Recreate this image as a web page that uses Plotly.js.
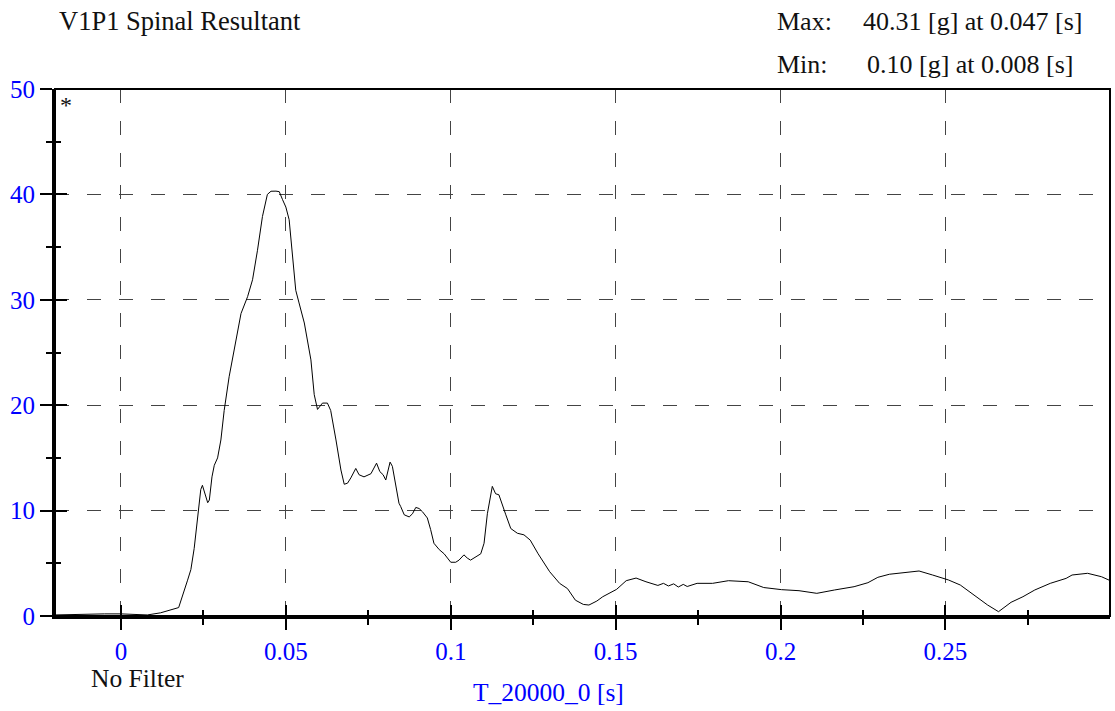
<!DOCTYPE html>
<html>
<head>
<meta charset="utf-8">
<script src="https://cdn.plot.ly/plotly-3.0.1.min.js"></script>
<style>
html,body{margin:0;padding:0;background:#fff;}
#chart{width:1115px;height:711px;}
</style>
</head>
<body>
<div id="chart"></div>
<script>
// ---- data ----
const timeS = [-0.02, -0.015, -0.01, -0.005, 0, 0.005, 0.008, 0.012, 0.015, 0.0175, 0.0202, 0.0212, 0.0222, 0.0235, 0.0242, 0.0247, 0.0255, 0.0263, 0.0268, 0.0276, 0.0283, 0.0293, 0.0303, 0.0313, 0.0328, 0.0343, 0.0364, 0.0384, 0.0399, 0.0414, 0.0429, 0.0444, 0.0455, 0.047, 0.048, 0.049, 0.050, 0.051, 0.052, 0.053, 0.054, 0.0556, 0.0576, 0.0586, 0.0596, 0.0611, 0.0626, 0.0636, 0.0652, 0.0667, 0.0677, 0.0687, 0.0697, 0.0712, 0.0722, 0.0737, 0.0758, 0.0775, 0.0785, 0.0795, 0.0803, 0.0816, 0.0823, 0.0833, 0.0843, 0.0848, 0.0859, 0.0874, 0.0884, 0.0894, 0.0904, 0.0914, 0.0929, 0.0939, 0.0949, 0.0965, 0.098, 0.099, 0.1, 0.1015, 0.1025, 0.104, 0.105, 0.106, 0.1076, 0.1091, 0.1101, 0.1111, 0.1126, 0.1136, 0.1146, 0.1157, 0.1167, 0.1182, 0.1202, 0.1222, 0.1241, 0.1265, 0.130, 0.133, 0.1354, 0.1378, 0.1402, 0.1419, 0.1443, 0.1461, 0.1479, 0.1503, 0.1532, 0.1562, 0.1592, 0.1628, 0.1645, 0.166, 0.1676, 0.169, 0.1705, 0.1717, 0.1747, 0.1794, 0.1842, 0.1902, 0.1949, 0.2003, 0.2056, 0.211, 0.2164, 0.2223, 0.2265, 0.2295, 0.233, 0.2372, 0.242, 0.2461, 0.2509, 0.2545, 0.258, 0.2628, 0.2661, 0.2699, 0.2735, 0.2771, 0.2818, 0.2866, 0.2884, 0.2931, 0.2973, 0.3];
const resultantG = [0.1, 0.15, 0.15, 0.2, 0.2, 0.15, 0.1, 0.3, 0.55, 0.8, 3.4, 4.4, 6.4, 10.1, 12.0, 12.4, 11.6, 10.75, 11.0, 13.2, 14.3, 15.0, 16.7, 19.5, 22.7, 25.2, 28.7, 30.3, 31.9, 34.7, 37.9, 40.0, 40.3, 40.31, 40.26, 39.5, 38.8, 37.6, 34.4, 30.9, 29.7, 27.8, 24.3, 21.0, 19.6, 20.2, 20.2, 19.5, 16.7, 13.85, 12.5, 12.6, 13.1, 14.0, 13.4, 13.2, 13.5, 14.5, 13.7, 13.4, 12.9, 14.6, 14.2, 12.3, 10.7, 10.4, 9.6, 9.4, 9.7, 10.3, 10.2, 9.9, 9.3, 8.2, 6.9, 6.3, 5.9, 5.5, 5.1, 5.1, 5.3, 5.8, 5.5, 5.3, 5.6, 5.9, 6.9, 9.7, 12.3, 11.6, 11.5, 10.4, 9.6, 8.3, 7.85, 7.7, 7.2, 5.9, 4.2, 3.1, 2.6, 1.5, 1.1, 1.04, 1.42, 1.83, 2.15, 2.53, 3.35, 3.6, 3.25, 2.9, 3.1, 2.85, 3.05, 2.75, 3.0, 2.8, 3.1, 3.1, 3.35, 3.25, 2.7, 2.5, 2.4, 2.15, 2.47, 2.78, 3.16, 3.67, 3.96, 4.11, 4.27, 3.89, 3.42, 2.94, 2.15, 1.04, 0.41, 1.3, 1.83, 2.47, 3.1, 3.57, 3.89, 4.05, 3.73, 3.35];
const xTickVals = [0, 0.05, 0.1, 0.15, 0.2, 0.25];
const xTickText = ["0", "0.05", "0.1", "0.15", "0.2", "0.25"];
const yTickVals = [0, 10, 20, 30, 40, 50];
const yTickText = ["0", "10", "20", "30", "40", "50"];
const chartTitle = "V1P1 Spinal Resultant";
const maxText = "40.31 [g] at 0.047 [s]";
const minText = "0.10 [g] at 0.008 [s]";
const xAxisLabel = "T_20000_0 [s]";
const filterLabel = "No Filter";

// ---- layout helpers ----
const W = 1115, H = 711;
const M = {l: 55, r: 5, t: 89, b: 95};
const PW = W - M.l - M.r, PH = H - M.t - M.b;
const px = x => (x - M.l) / PW;
const py = y => (H - M.b - y) / PH;
const FONT = "Liberation Serif, Times New Roman, Times, serif";
const BLUE = '#0000ff';
const XR = [-0.02, 0.2999];
const YR = [0, 50];

const gridStyle = {showgrid: true, gridcolor: '#444', gridwidth: 1, griddash: '14px,18px'};

const traces = [
  {x: timeS, y: resultantG, type: 'scatter', mode: 'lines',
   line: {color: '#000', width: 1}, hoverinfo: 'skip', showlegend: false, xaxis: 'x', yaxis: 'y'},
  {x: timeS, y: resultantG, type: 'scatter', mode: 'lines',
   line: {color: 'rgba(0,0,0,0)', width: 0}, hoverinfo: 'skip', showlegend: false, xaxis: 'x2', yaxis: 'y2'}
];

const layout = {
  width: W, height: H,
  margin: M,
  paper_bgcolor: '#fff', plot_bgcolor: '#fff',
  font: {family: FONT, color: '#000', size: 25},
  showlegend: false,
  xaxis: Object.assign({
    range: XR, tickmode: 'array', tickvals: xTickVals, ticktext: xTickText,
    ticks: 'outside', ticklen: 11, tickwidth: 2, tickcolor: '#000',
    minor: {tickmode: 'linear', tick0: 0.025, dtick: 0.05, ticks: 'outside', ticklen: 6, tickwidth: 2, tickcolor: '#000', showgrid: false},
    showline: true, linecolor: '#000', linewidth: 3,
    tickfont: {family: FONT, color: BLUE, size: 25},
    zeroline: false, fixedrange: true
  }, gridStyle),
  xaxis2: {
    range: XR, overlaying: 'x', anchor: 'y', side: 'bottom',
    tickmode: 'array', tickvals: xTickVals, showticklabels: false,
    ticks: 'inside', ticklen: 11, tickwidth: 2, tickcolor: '#000',
    minor: {tickmode: 'linear', tick0: 0.025, dtick: 0.05, ticks: 'inside', ticklen: 6, tickwidth: 2, tickcolor: '#000', showgrid: false},
    showgrid: false, showline: false, zeroline: false, fixedrange: true
  },
  yaxis: Object.assign({
    range: YR, tickmode: 'array', tickvals: yTickVals, ticktext: yTickText,
    ticks: 'outside', ticklen: 12, tickwidth: 2, tickcolor: '#000',
    minor: {tickmode: 'linear', tick0: 5, dtick: 10, ticks: 'outside', ticklen: 6, tickwidth: 2, tickcolor: '#000', showgrid: false},
    showline: true, linecolor: '#000', linewidth: 3,
    tickfont: {family: FONT, color: BLUE, size: 25},
    zeroline: false, fixedrange: true
  }, gridStyle),
  yaxis2: {
    range: YR, overlaying: 'y', anchor: 'x', side: 'left',
    tickmode: 'array', tickvals: yTickVals, showticklabels: false,
    ticks: 'inside', ticklen: 12, tickwidth: 2, tickcolor: '#000',
    minor: {tickmode: 'linear', tick0: 5, dtick: 10, ticks: 'inside', ticklen: 6, tickwidth: 2, tickcolor: '#000', showgrid: false},
    showgrid: false, showline: false, zeroline: false, fixedrange: true
  },
  shapes: [
    {type: 'rect', xref: 'paper', yref: 'paper', x0: 0, x1: 1, y0: 0, y1: 1,
     line: {color: '#000', width: 2}, fillcolor: 'rgba(0,0,0,0)', layer: 'above'}
  ],
  annotations: [
    {text: chartTitle, xref: 'paper', yref: 'paper', x: px(57), y: py(21), xanchor: 'left', yanchor: 'middle', showarrow: false, font: {family: FONT, size: 26.5, color: '#111'}},
    {text: 'Max:', xref: 'paper', yref: 'paper', x: px(775), y: py(22), xanchor: 'left', yanchor: 'middle', showarrow: false, font: {family: FONT, size: 26, color: '#111'}},
    {text: maxText, xref: 'paper', yref: 'paper', x: px(861), y: py(22), xanchor: 'left', yanchor: 'middle', showarrow: false, font: {family: FONT, size: 26, color: '#111'}},
    {text: 'Min:', xref: 'paper', yref: 'paper', x: px(775), y: py(64), xanchor: 'left', yanchor: 'middle', showarrow: false, font: {family: FONT, size: 26, color: '#111'}},
    {text: minText, xref: 'paper', yref: 'paper', x: px(865), y: py(64), xanchor: 'left', yanchor: 'middle', showarrow: false, font: {family: FONT, size: 26, color: '#111'}},
    {text: '*', xref: 'paper', yref: 'paper', x: px(58), y: py(105), xanchor: 'left', yanchor: 'middle', showarrow: false, font: {family: FONT, size: 24, color: '#111'}},
    {text: filterLabel, xref: 'paper', yref: 'paper', x: px(89), y: py(678), xanchor: 'left', yanchor: 'middle', showarrow: false, font: {family: FONT, size: 25.5, color: '#111'}},
    {text: xAxisLabel, xref: 'paper', yref: 'paper', x: px(548), y: py(692), xanchor: 'center', yanchor: 'middle', showarrow: false, font: {family: FONT, size: 25.5, color: BLUE}}
  ]
};

Plotly.newPlot('chart', traces, layout, {staticPlot: true, displayModeBar: false});
</script>
</body>
</html>
